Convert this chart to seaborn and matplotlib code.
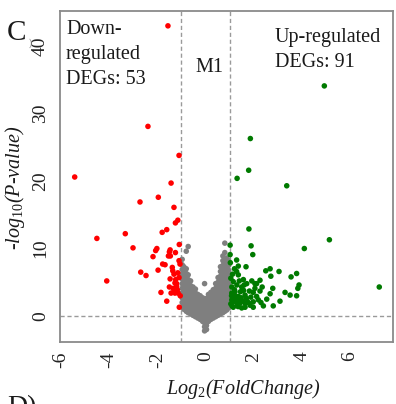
import matplotlib
matplotlib.use("Agg")
import matplotlib.pyplot as plt
import numpy as np
import pandas as pd
import seaborn as sns

# ---------------- data ----------------
down_x = [-1.56, -2.39, -1.10, -5.43, -1.43, -2.72, -1.96, -1.31, -1.15, -1.25,
          -1.61, -1.80, -3.33, -4.51, -1.09, -3.01, -2.02, -2.07, -1.47, -2.18,
          -1.50, -1.25, -1.54, -1.46, -1.10, -1.78, -1.68, -1.38, -1.06, -1.97,
          -2.69, -2.47, -1.31, -1.36, -1.47, -1.24, -1.10, -4.10, -1.27, -1.50,
          -1.34, -1.20, -1.17, -1.85, -1.43, -1.27, -1.14, -1.61, -1.09, -1.20,
          -1.05, -1.30, -1.15]
down_y = [43.0, 28.1, 23.8, 20.6, 19.7, 16.9, 17.6, 16.1, 14.2, 13.8,
          12.8, 12.4, 12.2, 11.5, 10.6, 10.1, 10.0, 9.7, 9.8, 8.8,
          9.5, 9.4, 8.9, 8.9, 8.2, 7.7, 7.6, 7.2, 7.7, 6.8,
          6.5, 6.0, 6.2, 6.7, 5.5, 5.4, 5.7, 5.2, 4.9, 4.3,
          4.1, 4.4, 3.9, 3.5, 3.4, 3.4, 3.4, 2.2, 1.3, 4.8,
          3.0, 3.8, 6.4]

up_x = [4.93, 1.86, 1.79, 1.31, 3.37, 1.80, 5.14, 4.10, 1.89, 1.96, 7.21,
        1.02, 1.02, 1.29, 1.36, 1.68, 2.50, 2.68, 3.05, 2.71, 3.78,
        3.55, 1.29, 1.36, 1.57, 1.92, 2.12, 2.26, 2.05, 3.88, 3.83,
        1.15, 1.09, 1.50, 1.82, 1.98, 2.79, 2.68, 3.30, 3.51, 3.78,
        1.22, 1.36, 1.64, 2.12, 2.54, 3.09, 1.09, 1.29, 1.64, 1.98,
        1.98, 1.64, 2.40, 2.81, 1.15, 1.43, 2.26, 1.71, 2.05, 2.19,
        1.22, 1.09,
        1.05, 1.12, 1.18, 1.25, 1.32, 1.40, 1.48, 1.55, 1.08, 1.20,
        1.30, 1.45, 1.58, 1.70, 1.78, 1.88, 1.05, 1.12, 1.20, 1.03,
        1.10, 1.35, 1.50, 1.85, 2.30, 1.60, 1.40, 2.35]
up_y = [34.1, 26.3, 21.6, 20.4, 19.3, 12.9, 11.3, 10.0, 10.4, 9.1, 4.3,
        10.5, 9.1, 8.3, 7.4, 7.3, 6.7, 7.0, 6.6, 5.9, 6.3,
        5.8, 6.6, 6.1, 5.4, 5.2, 4.8, 5.3, 4.8, 4.6, 4.1,
        5.1, 4.3, 4.3, 3.7, 3.5, 4.1, 3.3, 3.5, 3.1, 3.0,
        3.6, 2.9, 3.1, 2.9, 2.5, 2.2, 2.4, 2.1, 1.9, 2.1,
        1.3, 1.3, 1.5, 1.5, 1.3, 1.9, 3.7, 4.8, 4.1, 2.4,
        3.0, 3.4,
        1.8, 2.0, 2.6, 2.3, 1.6, 2.4, 2.7, 2.2, 3.0, 3.9,
        4.6, 3.6, 3.8, 2.6, 2.0, 2.8, 5.6, 6.2, 7.0, 7.9,
        1.5, 1.4, 1.2, 1.6, 2.0, 4.6, 5.2, 4.3]

# non-significant genes, read column by column from the grey cloud
ns_col_x = [-0.97, -0.90, -0.80, -0.72, -0.62, -0.52, -0.42, -0.32, -0.22, -0.12, -0.04,
            0.04, 0.12, 0.22, 0.32, 0.42, 0.52, 0.62, 0.72, 0.80, 0.88, 0.96]
ns_col_y = [
    [1.3, 2.0, 2.7, 3.4, 4.1, 4.8, 5.5, 6.2, 6.9, 7.6, 8.4],
    [1.0, 1.7, 2.4, 3.1, 3.8, 4.5, 5.2, 5.9, 6.6, 7.3],
    [0.7, 1.4, 2.1, 2.8, 3.5, 4.2, 4.9, 5.6, 6.3, 7.0, 9.6],
    [0.5, 1.2, 1.9, 2.6, 3.3, 4.0, 4.7, 5.4, 6.1, 10.3],
    [0.3, 1.0, 1.7, 2.4, 3.1, 3.8, 4.5, 5.2],
    [0.1, 0.8, 1.5, 2.2, 2.9, 3.6, 4.3],
    [-0.1, 0.6, 1.3, 2.0, 2.7, 3.4, 4.0],
    [-0.3, 0.4, 1.1, 1.8, 2.5, 3.2],
    [-0.5, 0.2, 0.9, 1.6, 2.3, 3.0],
    [-0.8, -0.1, 0.6, 1.3, 2.0, 2.7],
    [-2.2, -1.6, -1.0, -0.4, 0.3, 1.0, 1.7, 2.4, 4.8],
    [-2.0, -1.4, -0.8, -0.2, 0.5, 1.2, 1.9, 2.6],
    [-0.8, -0.1, 0.6, 1.3, 2.0, 2.7, 3.2],
    [-0.5, 0.2, 0.9, 1.6, 2.3, 3.0, 3.5],
    [-0.3, 0.4, 1.1, 1.8, 2.5, 3.2, 3.9],
    [-0.1, 0.6, 1.3, 2.0, 2.7, 3.4, 4.1, 4.8],
    [0.1, 0.8, 1.5, 2.2, 2.9, 3.6, 4.3, 5.0, 5.7],
    [0.3, 1.0, 1.7, 2.4, 3.1, 3.8, 4.5, 5.2, 5.9, 6.6, 7.3],
    [0.5, 1.2, 1.9, 2.6, 3.3, 4.0, 4.7, 5.4, 6.1, 6.8, 7.5, 8.2, 8.9],
    [0.7, 1.4, 2.1, 2.8, 3.5, 4.2, 4.9, 5.6, 6.3, 7.0, 7.7, 8.4, 9.4, 10.8],
    [0.9, 1.6, 2.3, 3.0, 3.7, 4.4, 5.1, 5.8, 6.5, 7.2, 7.9, 8.6],
    [1.2, 1.9, 2.6, 3.3, 4.0, 4.7, 5.4, 6.1, 6.8, 7.5, 8.2],
]

x_ticks = [-6, -4, -2, 0, 2, 4, 6]
y_ticks = [0, 10, 20, 30, 40]
fc_cut = 1.0
p_cut = 0.0

# ---------------- table ----------------
ns_x = [x for x, col in zip(ns_col_x, ns_col_y) for _ in col]
ns_y = [y for col in ns_col_y for y in col]
df = pd.DataFrame({
    "lfc": ns_x + down_x + up_x,
    "logp": ns_y + down_y + up_y,
    "group": ["NS"] * len(ns_x) + ["Down"] * len(down_x) + ["Up"] * len(up_x),
})

# ---------------- style ----------------
sns.set_style("white")
plt.rcParams["font.family"] = ["Liberation Serif", "DejaVu Serif"]
plt.rcParams["mathtext.fontset"] = "custom"
plt.rcParams["mathtext.it"] = "Liberation Serif:italic"
plt.rcParams["mathtext.rm"] = "Liberation Serif"

W, H = 396, 404
fig = plt.figure(figsize=(W / 100, H / 100), dpi=100)
L, R, T, B = 60, 393, 11, 342
ax = fig.add_axes([L / W, 1 - B / H, (R - L) / W, (B - T) / H])

sns.scatterplot(data=df, x="lfc", y="logp", hue="group",
                palette={"NS": "#7f7f7f", "Down": "#ff0000", "Up": "#007a00"},
                s=16, linewidth=0, legend=False, ax=ax, zorder=3)

dash = dict(color="#9a9a9a", lw=1.0, linestyle=(0, (3, 2)), zorder=1)
ax.axvline(-fc_cut, **dash)
ax.axvline(fc_cut, **dash)
ax.axhline(p_cut, **dash)

ax.set_xlim(-6.04, 7.78)
ax.set_ylim(-3.85, 45.2)
ax.set_xticks(x_ticks)
ax.set_xticklabels([str(t) for t in x_ticks], rotation=90)
ax.set_yticks(y_ticks)
ax.set_yticklabels([str(t) for t in y_ticks], rotation=90, va="center")
ax.set_xlabel("")
ax.set_ylabel("")
ax.tick_params(axis="both", direction="out", length=5, width=1,
               color="#808080", labelsize=14, labelcolor="#222222")
ax.tick_params(axis="y", pad=3)
ax.tick_params(axis="x", pad=2)
for sp in ax.spines.values():
    sp.set_visible(True)
    sp.set_color("#8a8a8a")
    sp.set_linewidth(1.3)

# annotations
tcol = "#1a1a1a"
ax.text((66 - L) / (R - L), (B - 20) / (B - T), "Down-\nregulated\nDEGs: 53",
        transform=ax.transAxes, ha="left", va="top", fontsize=14.5,
        linespacing=1.42, color=tcol)
ax.text((209 - L) / (R - L), (B - 67) / (B - T), "M1",
        transform=ax.transAxes, ha="center", va="center", fontsize=14.5, color=tcol)
ax.text((275 - L) / (R - L), (B - 28) / (B - T), "Up-regulated\nDEGs: 91",
        transform=ax.transAxes, ha="left", va="top", fontsize=14.5,
        linespacing=1.42, color=tcol)

# axis titles
fig.text(243 / W, 1 - 389 / H, "Log$_{\\mathit{2}}$(FoldChange)",
         ha="center", va="center", fontsize=14.5, fontstyle="italic", color=tcol)
fig.text(15 / W, 1 - 188 / H, "-log$_{\\mathit{10}}$(P-value)",
         ha="center", va="center", rotation=90, fontsize=14.5,
         fontstyle="italic", color=tcol)

# panel letters
fig.text(16 / W, 1 - 33 / H, "C", ha="center", va="center", fontsize=21, color=tcol)
fig.text(30 / W, 1 - 43 / H, ")", ha="center", va="center", fontsize=7,
         color="#777777")
fig.text(7 / W, 1 - 395 / H, "D)", ha="left", va="top", fontsize=20, color=tcol)

fig.savefig("out.png", dpi=100)
